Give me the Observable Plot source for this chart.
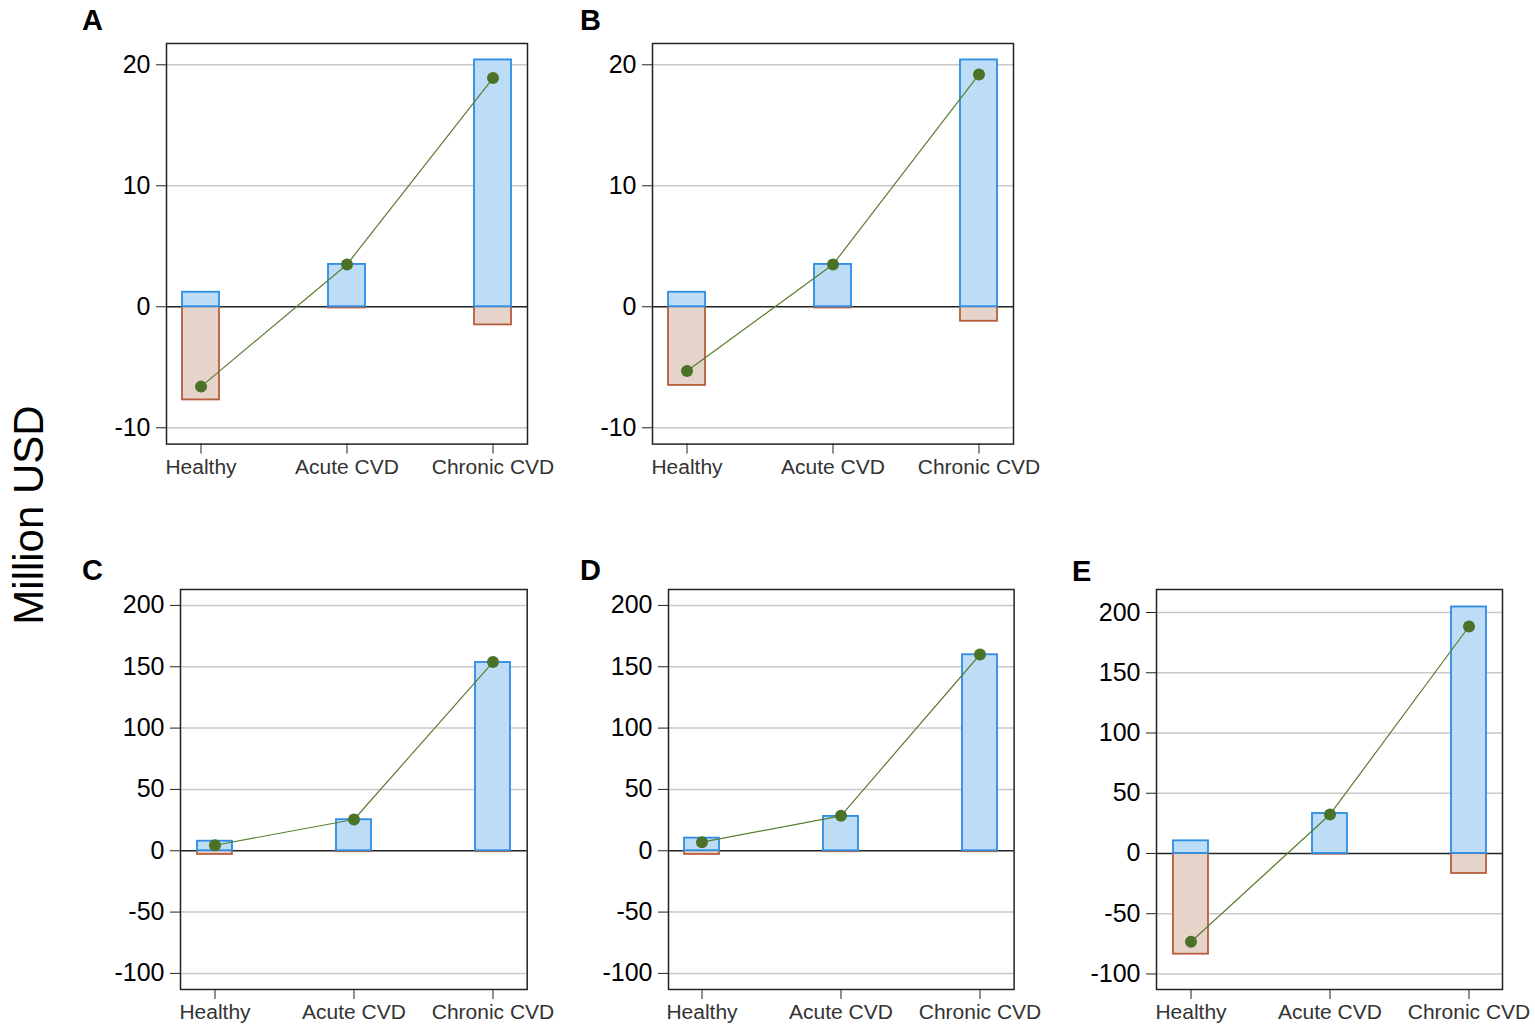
<!DOCTYPE html>
<html>
<head>
<meta charset="utf-8">
<script src="https://cdn.jsdelivr.net/npm/d3@7"></script>
<script src="https://cdn.jsdelivr.net/npm/@observablehq/plot@0.6"></script>
<style>
  html, body { margin: 0; padding: 0; background: #fff; }
  #page { position: relative; width: 1535px; height: 1032px; overflow: hidden; background: #fff;
          font-family: "Liberation Sans", Arial, sans-serif; }
  .panel { position: absolute; }
  .panel svg { max-width: none !important; display: block; }
  .letter { position: absolute; font-weight: bold; font-size: 29px; line-height: 1; color: #000; }
  #ylab { position: absolute; left: 29px; top: 515px; font-size: 42px; line-height: 1; color: #000;
          transform: translate(-50%, -50%) rotate(-90deg); white-space: nowrap; }
</style>
</head>
<body>
<div id="page">
  <div id="ylab">Million USD</div>
</div>
<script>
// ---- data (Million USD) ----
const categories = ["Healthy", "Acute CVD", "Chronic CVD"];

const gainA = [1.2, 3.5, 20.4];
const lossA = [-7.7, -0.1, -1.5];
const netA  = [-6.6, 3.5, 18.9];

const gainB = [1.2, 3.5, 20.4];
const lossB = [-6.5, -0.1, -1.2];
const netB  = [-5.3, 3.5, 19.2];

const gainC = [7.8, 25.3, 153.5];
const lossC = [-3.0, -0.8, -0.8];
const netC  = [4.5, 25.5, 153.8];

const gainD = [10.3, 28.0, 159.8];
const lossD = [-3.0, -0.8, -0.8];
const netD  = [7.0, 28.5, 160.0];

const gainE = [10.5, 33.2, 204.6];
const lossE = [-83.6, -0.5, -16.6];
const netE  = [-73.3, 32.4, 188.4];

const ticksSmall = [-10, 0, 10, 20];
const ticksLarge = [-100, -50, 0, 50, 100, 150, 200];

const panelLetters = ["A", "B", "C", "D", "E"];

// ---- drawing ----
const page = document.getElementById("page");
const ML = 95, MR = 45, MT = 10, MB = 50;

function panel(letter, gain, loss, net, yDomain, yTicks, fr, letterPos) {
  const rows = categories.map((c, i) => ({cat: c, gain: gain[i], loss: loss[i], net: net[i]}));
  const W = fr.right - fr.left, H = fr.bottom - fr.top;
  const chart = Plot.plot({
    width: W + ML + MR,
    height: H + MT + MB,
    marginLeft: ML, marginRight: MR, marginTop: MT, marginBottom: MB,
    style: {fontFamily: '"Liberation Sans", Arial, sans-serif', background: "transparent", overflow: "visible"},
    x: {domain: categories, paddingInner: 0.75, paddingOuter: 0, insetLeft: 16, insetRight: 16, label: null},
    y: {domain: yDomain, label: null},
    marks: [
      Plot.ruleY(yTicks.filter(t => t !== 0), {stroke: "#c9c9c9", strokeWidth: 1.5}),
      Plot.ruleY([0], {stroke: "#222", strokeWidth: 1.6}),
      Plot.barY(rows, {x: "cat", y: "loss", fill: "#e6d3c9", stroke: "#b65d3b", strokeWidth: 1.8}),
      Plot.barY(rows, {x: "cat", y: "gain", fill: "#bddcf6", stroke: "#2b8de3", strokeWidth: 1.8}),
      Plot.line(rows, {x: "cat", y: "net", stroke: "#5a7d32", strokeWidth: 1.2}),
      Plot.dot(rows, {x: "cat", y: "net", r: 6, fill: "#4b7227", stroke: "none"}),
      Plot.frame({stroke: "#222", strokeWidth: 1.5}),
      Plot.axisY({ticks: yTicks, tickFormat: d => String(d), tickSize: 10, tickPadding: 6, fontSize: 25,
                  color: "#000", stroke: "#222", label: null}),
      Plot.axisX({tickSize: 10, tickPadding: 5, fontSize: 21, fill: "#333", stroke: "#222", label: null})
    ]
  });
  const wrap = document.createElement("div");
  wrap.className = "panel";
  wrap.style.left = (fr.left - ML) + "px";
  wrap.style.top = (fr.top - MT) + "px";
  wrap.style.width = (W + ML + MR) + "px";
  wrap.style.height = (H + MT + MB) + "px";
  wrap.appendChild(chart);
  page.appendChild(wrap);

  const lt = document.createElement("div");
  lt.className = "letter";
  lt.textContent = letter;
  lt.style.left = letterPos[0] + "px";
  lt.style.top = letterPos[1] + "px";
  page.appendChild(lt);
}

panel(panelLetters[0], gainA, lossA, netA, [-11.35, 21.76], ticksSmall,
      {left: 165.7, right: 526.7, top: 42.7, bottom: 443.3}, [82, 6]);
panel(panelLetters[1], gainB, lossB, netB, [-11.35, 21.76], ticksSmall,
      {left: 652.3, right: 1013.3, top: 42.7, bottom: 443.3}, [580, 6]);
panel(panelLetters[2], gainC, lossC, netC, [-113.1, 213.0], ticksLarge,
      {left: 180, right: 526.7, top: 589, bottom: 989}, [82, 556]);
panel(panelLetters[3], gainD, lossD, netD, [-113.1, 213.0], ticksLarge,
      {left: 667.7, right: 1013.3, top: 589, bottom: 989}, [580, 556]);
panel(panelLetters[4], gainE, lossE, netE, [-112.9, 219.1], ticksLarge,
      {left: 1155.7, right: 1501.7, top: 589.3, bottom: 989.3}, [1072, 557]);
</script>
</body>
</html>
